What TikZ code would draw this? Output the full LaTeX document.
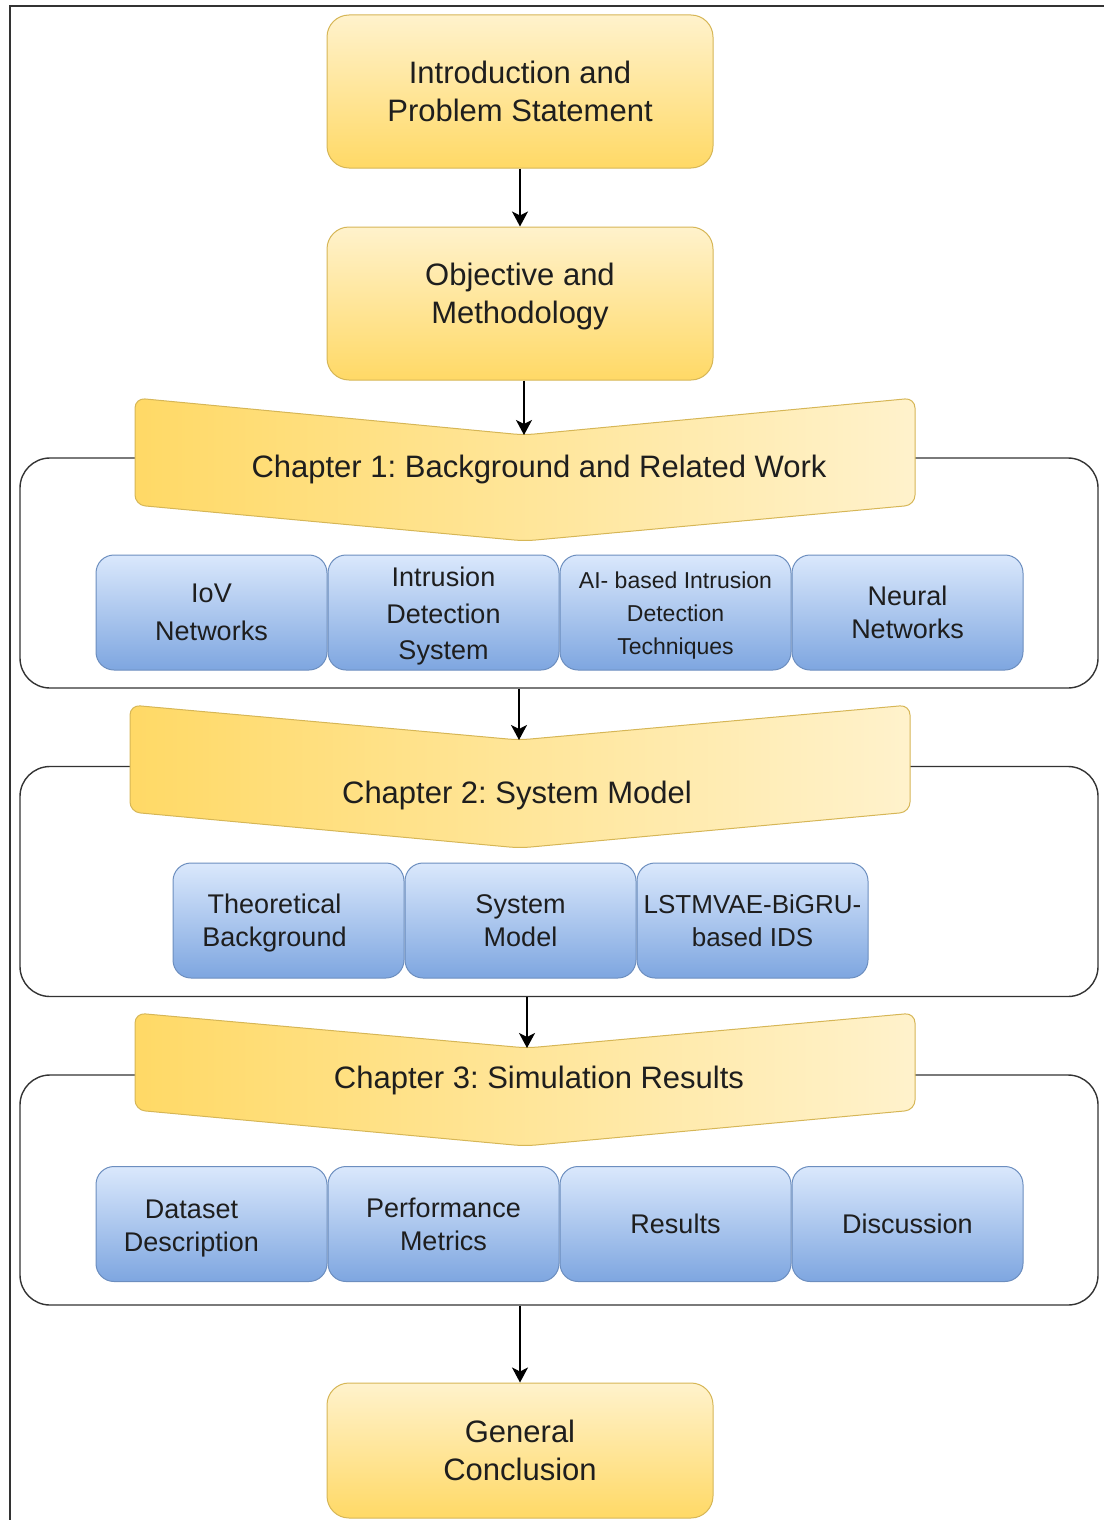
\documentclass[tikz,border=0pt]{standalone}
\usepackage{fontspec}
\setmainfont{Liberation Sans}
\usetikzlibrary{arrows.meta, positioning}
\definecolor{yelTop}{HTML}{FFF2CC}
\definecolor{yelBot}{HTML}{FFD966}
\definecolor{yelBorder}{HTML}{D6B656}
\definecolor{blueTop}{HTML}{DAE8FC}
\definecolor{blueBot}{HTML}{7EA6E0}
\definecolor{blueBorder}{HTML}{6C8EBF}
\definecolor{frameColor}{HTML}{333333}
\definecolor{textColor}{HTML}{1E1E1E}
\frenchspacing

\begin{document}
\begin{tikzpicture}[
    x=1pt, y=-1pt,
    >=Stealth,
    mainbox/.style={
        draw=yelBorder, top color=yelTop, bottom color=yelBot,
        rounded corners=22pt, line width=1pt,
        minimum width=386pt, minimum height=153pt,
        align=center, text=textColor,
        font=\fontsize{31}{38}\selectfont
    },
    chevron/.style={
        draw=yelBorder, left color=yelBot, right color=yelTop,
        rounded corners=10pt, line width=1pt
    },
    chaptitle/.style={text=textColor, font=\fontsize{31}{38}\selectfont},
    chapframe/.style={
        draw=frameColor, rounded corners=30pt, line width=1.4pt,
        minimum width=1078pt, minimum height=230pt
    },
    topicbox/.style={
        draw=blueBorder, top color=blueTop, bottom color=blueBot,
        rounded corners=18pt, line width=1pt,
        minimum width=231pt, minimum height=115pt,
        align=center, text=textColor, inner sep=2pt,
        font=\fontsize{27}{33}\selectfont
    },
    topictext/.style={
        align=center, text=textColor, inner sep=0pt,
        font=\fontsize{27}{33}\selectfont
    },
    link/.style={
        -{Stealth[length=15pt,width=16pt,inset=4pt]},
        black, line width=1.4pt
    },
]
\useasboundingbox (0,0) rectangle (1104,1520);

% outer frame (cut off on the right and at the bottom)
\draw[frameColor, line width=1.4pt] (10,1520) -- (10,6) -- (1104,6);

% ============================================================
%  INTRO
% ============================================================
\node[mainbox] (intro) at (520,91.5) {Introduction and\\Problem Statement};
\node[mainbox] (objective) at (520,303.5) {};
\node[topictext, font=\fontsize{31}{38}\selectfont, yshift=7pt] (objtext)
    at (objective) {Objective and\\Methodology};

\draw[link] (intro) -- (objective);

% ============================================================
%  CHAPTER 1
% ============================================================
\node[chapframe] (frame1) at (559,573) {};

\coordinate (ch1notch) at (524,435);
\draw[chevron] (135,398) -- (ch1notch) -- (915,398) -- (915,505)
    -- (525,541) -- (135,505) -- cycle;
\node[chaptitle] (ch1) at (539,469) {Chapter 1: Background and Related Work};

\node[topicbox, font=\fontsize{27}{38}\selectfont] (iov) at (211.5,612.5)
    {IoV\\Networks};
\node[topicbox, right=0pt of iov] (ids) {};
\node[topictext, font=\fontsize{27}{36.5}\selectfont, yshift=-4pt] (idstext)
    at (ids) {Intrusion\\Detection\\System};
\node[topicbox, right=0pt of ids] (aiids) {};
\node[topictext, font=\fontsize{23}{33}\selectfont, yshift=-3pt] (aitext)
    at (aiids) {AI- based Intrusion\\Detection\\Techniques};
\node[topicbox, right=0pt of aiids] (neural) {Neural\\Networks};

\draw[link] (objective.south -| ch1notch) -- (ch1notch);

% ============================================================
%  CHAPTER 2
% ============================================================
\node[chapframe] (frame2) at (559,881.5) {};

\coordinate (ch2notch) at (519,740);
\draw[chevron] (130,705) -- (ch2notch) -- (910,705) -- (910,812)
    -- (520,848) -- (130,812) -- cycle;
\node[chaptitle] (ch2) at (517,795) {Chapter 2: System Model};

\node[topicbox] (theory) at (288.5,920.5) {};
\node[topictext, xshift=-14pt, yshift=-3pt] (theorytext) at (theory)
    {Theoretical\\Background};
\node[topicbox, right=0pt of theory] (sysmodel) {System\\Model};
\node[topicbox, font=\fontsize{26}{33}\selectfont, right=0pt of sysmodel] (proposed)
    {LSTMVAE-BiGRU-\\based IDS};

\draw[link] (frame1.south -| ch2notch) -- (ch2notch);

% ============================================================
%  CHAPTER 3
% ============================================================
\node[chapframe] (frame3) at (559,1190) {};

\coordinate (ch3notch) at (527,1048);
\draw[chevron] (135,1013) -- (ch3notch) -- (915,1013) -- (915,1110)
    -- (525,1146) -- (135,1110) -- cycle;
\node[chaptitle] (ch3) at (539,1080) {Chapter 3: Simulation Results};

\node[topicbox] (dataset) at (211.5,1224) {};
\node[topictext, xshift=-20pt, yshift=-4pt] (datatext) at (dataset)
    {Dataset\\Description};
\node[topicbox, right=0pt of dataset] (metrics) {Performance\\Metrics};
\node[topicbox, right=0pt of metrics] (results) {Results};
\node[topicbox, right=0pt of results] (discussion) {Discussion};

\draw[link] (frame2.south -| ch3notch) -- (ch3notch);

% ============================================================
%  CONCLUSION
% ============================================================
\node[mainbox, minimum height=135pt] (conclusion) at (520,1450.5)
    {General\\Conclusion};

\draw[link] (frame3.south -| conclusion) -- (conclusion);

\end{tikzpicture}
\end{document}
